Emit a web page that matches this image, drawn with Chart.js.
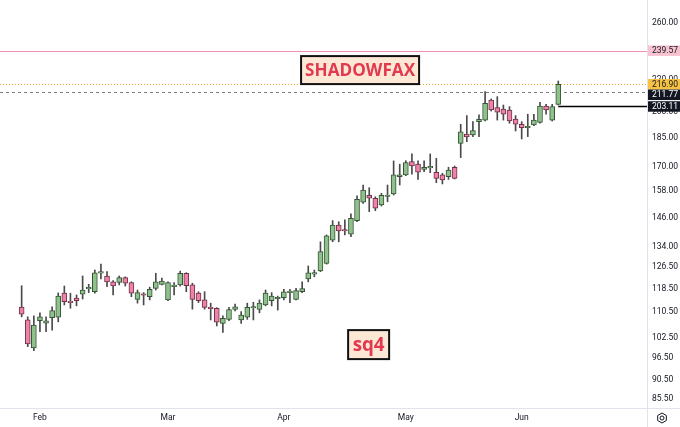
<!DOCTYPE html>
<html><head><meta charset="utf-8">
<script src="https://cdn.jsdelivr.net/npm/chart.js@4.4.0/dist/chart.umd.min.js"></script>
<style>html,body{margin:0;padding:0;background:#fff;}#wrap{width:680px;height:427px;position:relative;}</style>
</head><body><div id="wrap"><canvas id="c"></canvas></div>
<script>
// ---- data ----
const monthIdx = [3, 24, 43, 63, 82];
const monthNames = ['Feb', 'Mar', 'Apr', 'May', 'Jun'];
const yTicks = [260, 220, 200, 185, 170, 158, 146, 134, 126.5, 118.5, 110.5, 102.5, 96.5, 90.5, 85.5];

const open = [112.2,108.0,99.4,107.8,107.0,108.7,108.9,116.9,114.0,115.2,
116.6,118.4,117.4,124.0,123.0,120.9,120.7,122.4,120.6,114.8,
116.7,115.7,118.6,120.0,114.6,119.2,119.8,124.0,119.8,116.9,
114.6,111.9,111.8,106.9,108.2,111.4,108.0,108.9,111.9,111.4,
112.9,114.3,115.0,115.4,117.1,114.8,117.4,121.9,123.7,124.9,
127.7,136.8,143.0,141.1,139.2,144.9,153.0,156.2,154.8,151.8,
155.6,156.8,165.0,165.9,172.5,171.3,168.6,169.4,167.2,165.9,
165.0,169.7,182.1,187.2,186.7,194.2,195.1,207.0,202.4,201.6,
201.0,195.7,192.7,190.7,192.3,193.8,203.4,195.1,204.4];
const high = [119.5,109.0,109.3,110.3,109.0,112.3,117.0,119.4,116.9,116.3,
123.0,120.0,125.2,127.4,124.6,121.3,123.0,122.7,120.9,118.0,
117.1,119.0,124.0,122.2,120.9,120.6,124.8,124.2,120.4,117.4,
117.4,113.5,112.0,109.3,112.1,113.2,110.7,113.5,113.8,114.6,
118.0,117.1,115.9,118.2,118.2,118.6,120.9,126.7,125.2,136.1,
138.9,144.9,144.4,145.2,147.8,155.9,161.0,159.7,155.5,157.1,
161.0,172.9,171.2,173.0,176.5,173.0,173.0,176.5,174.2,166.7,
169.7,170.3,192.7,197.7,194.2,198.1,212.2,207.7,209.1,204.0,
203.0,197.7,194.2,198.5,198.5,205.6,204.4,204.4,219.0];
const low = [109.0,99.8,98.6,104.3,104.3,104.8,107.4,112.9,111.8,112.6,
114.9,117.1,116.9,121.9,119.2,116.3,119.8,119.4,115.7,113.5,
112.9,114.6,118.0,119.8,114.3,116.3,119.4,117.4,111.5,113.7,
111.5,108.0,106.1,104.1,107.8,110.9,106.9,108.2,108.0,110.3,
112.6,112.6,111.2,114.6,113.7,114.6,117.1,120.9,122.7,124.6,
127.4,136.1,136.1,138.9,138.2,144.4,152.5,148.8,149.2,151.3,
153.2,156.3,161.0,165.5,166.3,163.7,167.5,167.0,162.1,161.5,
163.7,163.9,174.6,183.0,185.8,185.8,194.6,200.4,195.1,195.1,
193.3,188.9,184.5,185.8,191.9,193.3,198.5,194.6,204.0];
const close = [109.9,100.6,106.4,109.0,107.7,111.0,115.9,114.0,113.7,114.3,
118.0,118.8,124.2,124.6,120.9,119.4,122.4,120.4,116.9,117.1,
116.2,118.2,120.9,121.2,120.6,119.5,124.0,119.5,114.8,114.3,
112.1,111.7,107.3,108.5,111.4,112.3,109.6,112.1,112.2,113.5,
116.9,115.9,115.2,117.4,117.4,117.8,118.5,124.2,124.2,132.2,
138.5,143.0,140.6,140.5,145.9,154.3,158.6,154.8,150.3,156.2,
156.0,165.9,165.9,172.0,170.3,167.2,169.7,169.8,164.2,163.4,
168.3,164.2,188.5,185.6,189.1,195.6,205.0,201.0,199.7,198.5,
194.6,192.7,190.8,191.2,195.1,203.4,201.0,203.11,216.9];

// horizontal levels
const levelValues = [239.57, 216.90, 211.77, 203.11];
const levelKinds  = ['pink', 'last', 'dash', 'prev'];
// text annotations (anchored in data space: bar index, price)
const noteTexts  = ['SHADOWFAX', 'sq4'];
const noteIndex  = [55.5, 56.9];
const notePrice  = [226.2, 100.4];

// ---- styles ----
const GREEN = 'rgb(143,193,140)', GREEN_B = 'rgb(52,84,52)';
const PINK = 'rgb(238,130,168)', PINK_B = 'rgb(110,50,72)';
const FONT = 'Roboto';
const FS = 8.5;

const idx = open.map((_, i) => i);
const up = idx.map(i => close[i] >= open[i]);

const overlay = {
  id: 'overlay',
  beforeDraw(chart) {
    const c = chart.ctx;
    c.save(); c.fillStyle = '#fff'; c.fillRect(0, 0, chart.width, chart.height); c.restore();
  },
  beforeDatasetsDraw(chart) {
    const c = chart.ctx, a = chart.chartArea, ys = chart.scales.y, xs = chart.scales.x;
    c.save();
    levelValues.forEach((v, k) => {
      const y = Math.round(ys.getPixelForValue(v)) + 0.5;
      const kind = levelKinds[k];
      c.beginPath();
      c.setLineDash([]);
      let x0 = a.left;
      if (kind === 'pink') { c.strokeStyle = '#ee8fae'; c.lineWidth = 1.2; }
      if (kind === 'last') { c.strokeStyle = '#f0ad2a'; c.lineWidth = 1; c.setLineDash([1, 2]); }
      if (kind === 'dash') { c.strokeStyle = '#7e7e7e'; c.lineWidth = 1; c.setLineDash([3, 3]); }
      if (kind === 'prev') { c.strokeStyle = '#000'; c.lineWidth = 1.5; x0 = xs.getPixelForValue(idx.length - 1); }
      c.moveTo(x0, y); c.lineTo(a.right, y); c.stroke();
    });
    c.restore();
  },
  afterDraw(chart) {
    const c = chart.ctx, a = chart.chartArea, ys = chart.scales.y, xs = chart.scales.x;
    c.save();
    // borders
    c.strokeStyle = '#e0e3eb'; c.lineWidth = 1; c.setLineDash([]);
    c.beginPath(); c.moveTo(a.right + 0.5, 0); c.lineTo(a.right + 0.5, chart.height); c.stroke();
    c.beginPath(); c.moveTo(0, a.bottom + 0.5); c.lineTo(chart.width, a.bottom + 0.5); c.stroke();
    // price labels
    const boxes = levelValues.map((v, k) => ({ v, k, y: ys.getPixelForValue(v) })).sort((p, q) => p.y - q.y);
    const H = 10.5;
    let prevBottom = -100;
    boxes.forEach(b => {
      let top = b.y - H / 2;
      if (top < prevBottom) top = prevBottom;
      prevBottom = top + H;
      const kind = levelKinds[b.k];
      let bg = '#131722', fg = '#ffffff';
      if (kind === 'pink') { bg = '#f8c3d1'; fg = '#131722'; }
      if (kind === 'last') { bg = '#f5c242'; fg = '#131722'; }
      c.fillStyle = bg; c.fillRect(a.right + 1, top, chart.width - a.right - 1, H);
      c.fillStyle = fg; c.font = FS + 'px ' + FONT; c.textBaseline = 'middle'; c.textAlign = 'left';
      c.fillText(b.v.toFixed(2), a.right + 5, top + H / 2 + 0.5);
    });
    // notes
    const sizes = [[118, 28, 110], [41, 29, 32]];
    noteTexts.forEach((t, k) => {
      const cx = xs.getPixelForValue(noteIndex[k]);
      const cy = ys.getPixelForValue(notePrice[k]);
      const [w, h, tw] = sizes[k];
      c.fillStyle = '#fde8d6';
      c.fillRect(cx - w / 2, cy - h / 2, w, h);
      c.strokeStyle = '#111'; c.lineWidth = 2;
      c.strokeRect(cx - w / 2, cy - h / 2, w, h);
      c.font = 'bold 20px "Open Sans"';
      const m = c.measureText(t).width;
      const fs = 20 * tw / m;
      c.font = 'bold ' + fs.toFixed(2) + 'px "Open Sans"';
      c.fillStyle = '#e2394f'; c.textAlign = 'center'; c.textBaseline = 'middle';
      c.fillText(t, cx, cy + 1);
    });
    // settings icon
    const gx = 662, gy = 418;
    c.strokeStyle = '#131722'; c.lineWidth = 1;
    c.beginPath();
    for (let i = 0; i < 6; i++) {
      const ang = Math.PI / 6 + i * Math.PI / 3;
      const px = gx + 5 * Math.cos(ang), py = gy + 5 * Math.sin(ang);
      if (i === 0) c.moveTo(px, py); else c.lineTo(px, py);
    }
    c.closePath(); c.stroke();
    c.beginPath(); c.arc(gx, gy, 2, 0, Math.PI * 2); c.stroke();
    c.restore();
  }
};

new Chart(document.getElementById('c'), {
  type: 'bar',
  data: {
    datasets: [
      {
        label: 'wick',
        data: idx.map(i => ({ x: i, y: [low[i], high[i]] })),
        backgroundColor: '#4a4a4a',
        barThickness: 1,
        grouped: false,
        order: 2
      },
      {
        label: 'body',
        data: idx.map(i => ({ x: i, y: [open[i], close[i]] })),
        backgroundColor: idx.map(i => up[i] ? GREEN : PINK),
        borderColor: idx.map(i => up[i] ? GREEN_B : PINK_B),
        borderWidth: 1,
        borderSkipped: false,
        barThickness: 5,
        minBarLength: 1.5,
        grouped: false,
        order: 1
      }
    ]
  },
  options: {
    responsive: true,
    maintainAspectRatio: false,
    animation: false,
    layout: { padding: 0 },
    plugins: { legend: { display: false }, tooltip: { enabled: false } },
    scales: {
      x: {
        type: 'linear',
        offset: false,
        min: -3.55,
        max: 102.55,
        grid: { display: false, drawTicks: false },
        border: { display: false },
        afterBuildTicks: s => { s.ticks = monthIdx.map(v => ({ value: v })); },
        afterFit: s => { s.height = 19; s.paddingLeft = 0; s.paddingRight = 0; },
        ticks: {
          autoSkip: false, maxRotation: 0, padding: 5,
          color: '#131722', font: { family: FONT, size: FS },
          callback: v => { const k = monthIdx.indexOf(v); return k >= 0 ? monthNames[k] : ''; }
        }
      },
      y: {
        type: 'logarithmic',
        position: 'right',
        min: 83.23,
        max: 278.33,
        grid: { display: false, drawTicks: false },
        border: { display: false },
        afterBuildTicks: s => { s.ticks = yTicks.map(v => ({ value: v })); },
        afterFit: s => { s.width = 33; s.paddingTop = 0; s.paddingBottom = 0; },
        ticks: {
          autoSkip: false, padding: 5,
          color: '#131722', font: { family: FONT, size: FS },
          callback: v => Number(v).toFixed(2)
        }
      }
    }
  },
  plugins: [overlay]
});
</script></body></html>
